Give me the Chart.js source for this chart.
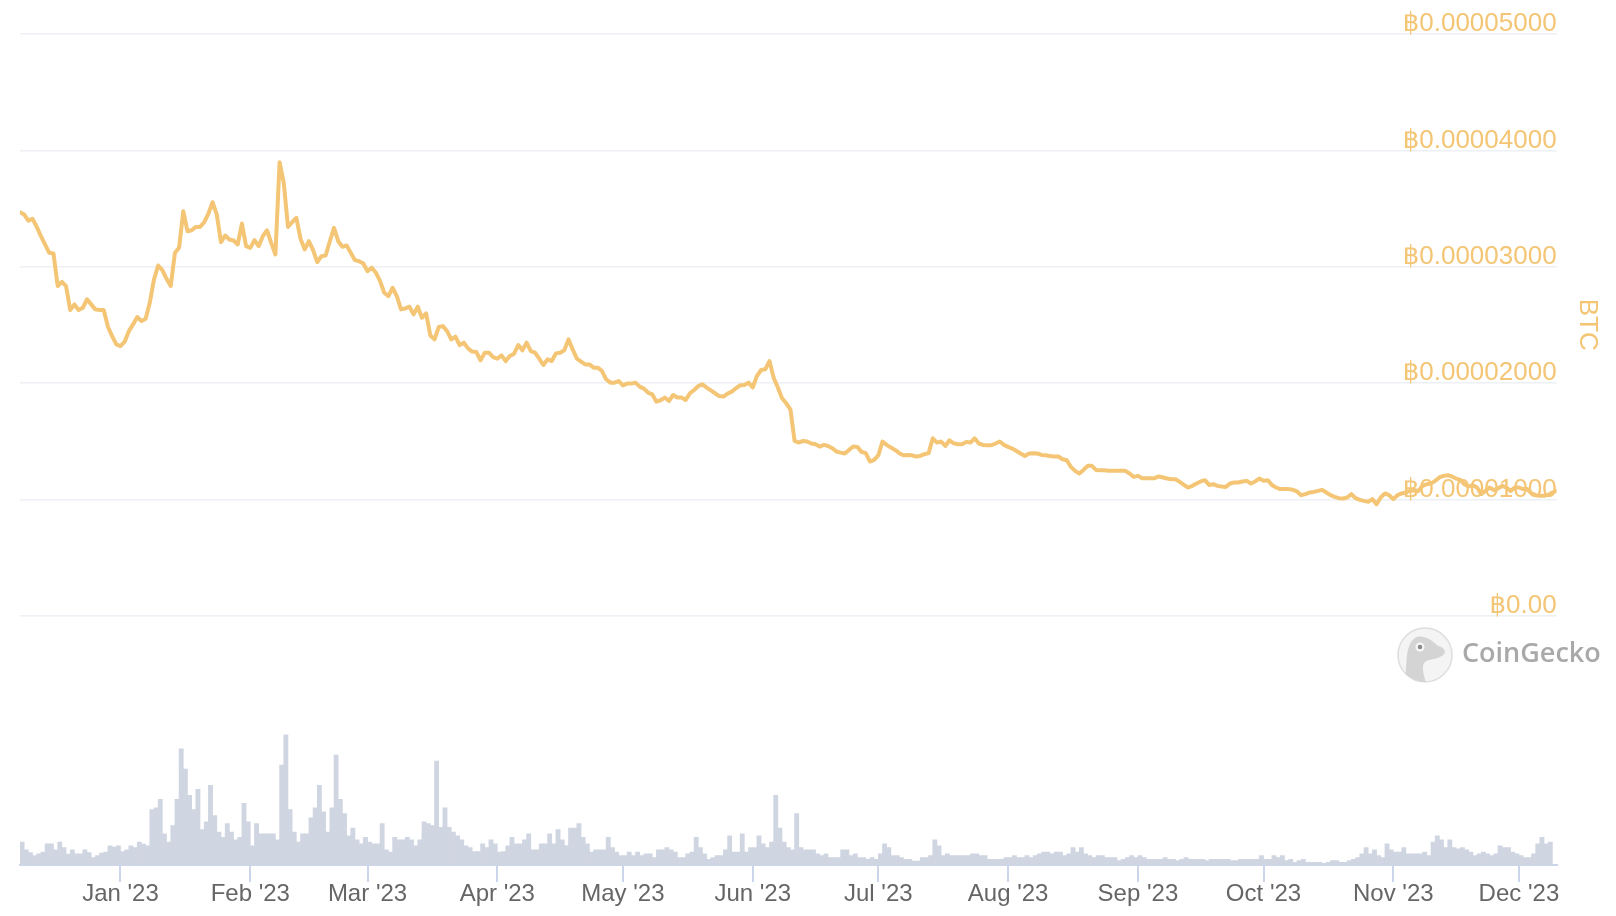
<!DOCTYPE html>
<html><head><meta charset="utf-8">
<script src="https://cdn.jsdelivr.net/npm/chart.js@4.4.0/dist/chart.umd.min.js"></script>
<style>html,body{margin:0;padding:0;background:#fff;}#wrap{width:1616px;height:916px;position:relative;}</style>
</head><body><div id="wrap"><canvas id="c" width="1616" height="916"></canvas></div>
<script>
// ---- data ----
const startDate = '2022-12-08';
const monthStarts = ['2023-01-01','2023-02-01','2023-03-01','2023-04-01','2023-05-01','2023-06-01','2023-07-01','2023-08-01','2023-09-01','2023-10-01','2023-11-01','2023-12-01'];
const monthLabels = ["Jan '23","Feb '23","Mar '23","Apr '23","May '23","Jun '23","Jul '23","Aug '23","Sep '23","Oct '23","Nov '23","Dec '23"];
// price in satoshi (1e-8 BTC), one value per day from startDate
const priceSats = [
3468,3448,3396,3411,3342,3262,3190,3119,3113,2833,
2870,2833,2627,2676,2627,2647,2719,2676,2633,2627,
2627,2484,2403,2332,2318,2355,2446,2504,2567,2532,
2553,2690,2890,3010,2970,2896,2833,3119,3162,3476,
3305,3313,3342,3342,3382,3457,3554,3448,3210,3268,
3234,3225,3191,3371,3176,3162,3228,3176,3262,3313,
3205,3105,3897,3720,3342,3382,3420,3240,3148,3219,
3142,3039,3090,3096,3219,3334,3219,3171,3182,3119,
3056,3047,3027,2961,2991,2948,2876,2776,2747,2819,
2747,2633,2641,2656,2590,2656,2561,2598,2409,2375,
2481,2489,2446,2375,2398,2326,2347,2298,2270,2266,
2195,2261,2261,2223,2209,2238,2189,2232,2252,2326,
2281,2347,2275,2261,2209,2155,2203,2189,2255,2261,
2281,2375,2289,2209,2184,2160,2160,2132,2132,2103,
2032,2003,2003,2017,1980,1995,1995,2003,1969,1952,
1918,1903,1840,1852,1875,1846,1897,1875,1875,1854,
1912,1940,1974,1989,1961,1937,1912,1888,1883,1909,
1926,1955,1980,1983,2003,1961,2060,2112,2118,2189,
2046,1961,1869,1826,1774,1502,1488,1502,1497,1480,
1474,1454,1468,1459,1440,1411,1402,1394,1425,1454,
1451,1408,1397,1325,1339,1379,1497,1468,1445,1425,
1397,1379,1382,1379,1368,1373,1388,1397,1525,1488,
1497,1459,1508,1482,1474,1474,1494,1488,1525,1480,
1468,1465,1465,1480,1497,1468,1451,1437,1416,1394,
1373,1394,1397,1394,1382,1379,1373,1368,1368,1345,
1336,1279,1245,1222,1253,1288,1288,1253,1250,1250,
1245,1245,1245,1245,1245,1222,1193,1202,1182,1182,
1182,1182,1197,1188,1179,1173,1173,1150,1124,1102,
1116,1136,1154,1165,1124,1130,1116,1111,1107,1136,
1145,1145,1154,1159,1136,1154,1179,1159,1165,1124,
1102,1088,1088,1088,1082,1068,1036,1045,1059,1064,
1073,1082,1059,1036,1021,1010,1008,1016,1045,1010,
996,987,979,1002,959,1016,1051,1036,1002,1036,
1051,1059,1073,1079,1073,1116,1130,1136,1159,1188,
1202,1208,1197,1179,1167,1130,1111,1122,1102,1045,
1073,1102,1079,1094,1116,1102,1073,1102,1102,1088,
1088,1051,1036,1030,1030,1039,1059,1073
];
// daily volume (relative units)
const volumes = [
22.7,15,12.3,9.3,11,12.7,21,21,15,22.7,17.3,
10.7,15,11,11,15,12.3,7.3,9.3,11.7,12.7,
19,17.7,19,13.3,15,19,17.3,22.7,20.7,19,
55,56.7,65,31,22.7,39,65,115,95,69,55,
75,35,42.7,79,49,32.7,27.3,41,32.7,25,
27.3,61,42.7,19,41,31,31,31,31,25,99,
129,55,32.7,22.7,31,31,46.7,56.7,79,52.7,
32.7,56.7,109,65,51,29,36.7,25,21,27.3,22.7,
21,21,41,15,12.7,27.3,25,25,27.3,25,
19,25,42.7,41,39,103,37.3,56.7,37.3,32.7,29,
25,19,17.3,13.3,13.3,21,17.3,25,21,12.7,
13.3,19,27.3,21,21,25,31,15,15,
21,21,
31,21,35,25,19.3,36.7,36.7,41,27.3,21,
12.7,15,15,15,27.3,17.3,12.7,9.3,9.3,12.7,9.3,
12.7,9.3,11,11,7.3,15,15,17.3,15,12.7,
7.3,7.3,11,12.7,27.3,17.3,11,5.7,7.3,9.3,9.3,
15,29,12.7,12.7,31,12.7,17.3,17.3,29,21,
17.3,22.7,69,36.7,22.7,17.3,15,51,17.3,15,15,
15,11,9.3,11,7.3,7.3,7.3,15,15,9.3,
11,7.3,7.3,5.7,7.3,5.7,11,21,17.3,9.3,9.3,
7.3,5.7,5.7,4,4,7.3,7.3,9.3,25,19,
9.3,11,9.3,9.3,9.3,9.3,9.3,11,11,9.3,9.3,
5.7,5.7,5.7,5.7,7.3,7.3,9.3,7.3,7.3,9.3,7.3,
9.3,11,12.7,12.7,11,12.7,12.7,9.3,11,17.3,12.7,
17.3,11,9.3,7.3,9.3,9.3,7.3,7.3,7.3,
4.3,5.7,7.3,9.3,7.3,9.3,7.3,5.7,5.7,5.7,5.7,
7.3,5.7,5.7,4.3,5.7,7.3,5.7,5.7,5.7,5.7,
4.3,5.7,5.7,5.7,5.7,5.7,4.3,4.3,5.7,5.7,5.7,
5.7,5.7,9.3,5.7,5.7,9.3,7.3,9.3,4.3,5.7,
2.7,4.3,5.7,2.7,2.7,2.7,2.7,1.7,2.7,4.3,4.3,
2.7,2.7,4.3,5.7,7.3,11,17.3,11,15,9.3,
7.3,21,15,12.7,12.7,17.3,11,11,11,11,12.7,
9.3,22.7,29,25,17.3,25,17.3,16,17.3,15,
12.7,9.3,11,12.7,11,9.3,11,19,17.3,17.3,12.7,
11,9.3,7.3,7.3,11,21,27.3,21,22.7
];

// ---- derived ----
const DAY = 86400000;
const t0 = Date.parse(startDate + 'T00:00:00Z');
const monthTicks = monthStarts.map(d => (Date.parse(d + 'T00:00:00Z') - t0) / DAY);
const linePts = priceSats.map((v, i) => ({x: i, y: v}));
const volPts = volumes.map((v, i) => ({x: i + 0.5, y: v}));

const ORANGE = '#f4c574';
const FONT = "'Liberation Sans', Arial, 'DejaVu Sans', sans-serif";

const watermark = {
  id: 'watermark',
  afterDraw(chart) {
    const ctx = chart.ctx;
    const cx = 1425, cy = 655, r = 27;
    ctx.save();
    ctx.beginPath(); ctx.arc(cx, cy, r, 0, Math.PI * 2);
    ctx.fillStyle = '#f4f4f4'; ctx.fill();
    ctx.lineWidth = 1.5; ctx.strokeStyle = '#dedede'; ctx.stroke();
    ctx.clip();
    ctx.beginPath();
    ctx.moveTo(cx - 20, cy + 30);
    ctx.bezierCurveTo(cx - 18, cy + 8, cx - 20, cy - 10, cx - 10, cy - 17);
    ctx.bezierCurveTo(cx - 2, cy - 22, cx + 8, cy - 14, cx + 13, cy - 9);
    ctx.bezierCurveTo(cx + 20, cy - 8, cx + 22, cy - 2, cx + 17, cy + 1);
    ctx.bezierCurveTo(cx + 10, cy + 5, cx + 2, cy + 4, cx - 1, cy + 8);
    ctx.bezierCurveTo(cx - 4, cy + 14, cx, cy + 24, cx + 2, cy + 30);
    ctx.closePath();
    ctx.fillStyle = '#d4d4d4'; ctx.fill();
    ctx.beginPath(); ctx.arc(cx - 5, cy - 8, 4.5, 0, Math.PI * 2); ctx.fillStyle = '#f7f7f7'; ctx.fill();
    ctx.beginPath(); ctx.arc(cx - 5, cy - 8, 2.3, 0, Math.PI * 2); ctx.fillStyle = '#8a8a8a'; ctx.fill();
    ctx.restore();
    ctx.save();
    ctx.font = "600 27px 'Open Sans', " + FONT;
    ctx.fillStyle = '#a9a9a9';
    ctx.textBaseline = 'alphabetic';
    ctx.textAlign = 'left';
    ctx.fillText('CoinGecko', 1462, 662);
    ctx.restore();
  }
};

new Chart(document.getElementById('c'), {
  data: {
    datasets: [
      {type: 'line', data: linePts, yAxisID: 'y', xAxisID: 'x', borderColor: ORANGE, borderWidth: 4,
       pointRadius: 0, tension: 0, borderJoinStyle: 'round', borderCapStyle: 'round', order: 0},
      {type: 'bar', data: volPts, yAxisID: 'vol', xAxisID: 'x', backgroundColor: '#cfd5e1',
       barPercentage: 1, categoryPercentage: 1, borderWidth: 0, order: 1}
    ]
  },
  options: {
    responsive: false, animation: false, devicePixelRatio: 1,
    layout: {padding: {left: 20, top: 34, right: 10.6, bottom: 9}},
    plugins: {legend: {display: false}, tooltip: {enabled: false}},
    scales: {
      y: {
        type: 'linear', position: 'right', stack: 'right', stackWeight: 0.7,
        min: 0, max: 5000,
        ticks: {stepSize: 1000, mirror: true, padding: 0, labelOffset: -10, color: ORANGE,
          font: {family: FONT, size: 26},
          callback: v => v === 0 ? '฿0.00' : '฿' + (v / 1e8).toFixed(8)},
        grid: {color: '#edf0f5', lineWidth: 1.5, drawTicks: false},
        border: {display: false},
        title: {display: true, text: 'BTC', color: ORANGE, font: {family: FONT, size: 26}, padding: {top: 3, bottom: 14.6}}
      },
      vol: {
        type: 'linear', position: 'right', stack: 'right', stackWeight: 0.3,
        min: 0, max: 247,
        ticks: {display: false}, grid: {display: false}, border: {display: false}
      },
      x: {
        type: 'linear', position: 'bottom', offset: false, min: 0, max: priceSats.length - 1,
        afterBuildTicks: axis => { axis.ticks = monthTicks.map(v => ({value: v})); },
        ticks: {autoSkip: false, maxRotation: 0, color: '#666666', padding: 0.5,
          font: {family: FONT, size: 24, lineHeight: 1},
          callback: (v, i) => monthLabels[i]},
        grid: {display: true, offset: false, drawOnChartArea: false, drawTicks: true, tickLength: 17, color: '#ccd6eb', lineWidth: 2},
        border: {display: true, color: '#ccd6eb', width: 2}
      }
    }
  },
  plugins: [watermark]
});
</script></body></html>
